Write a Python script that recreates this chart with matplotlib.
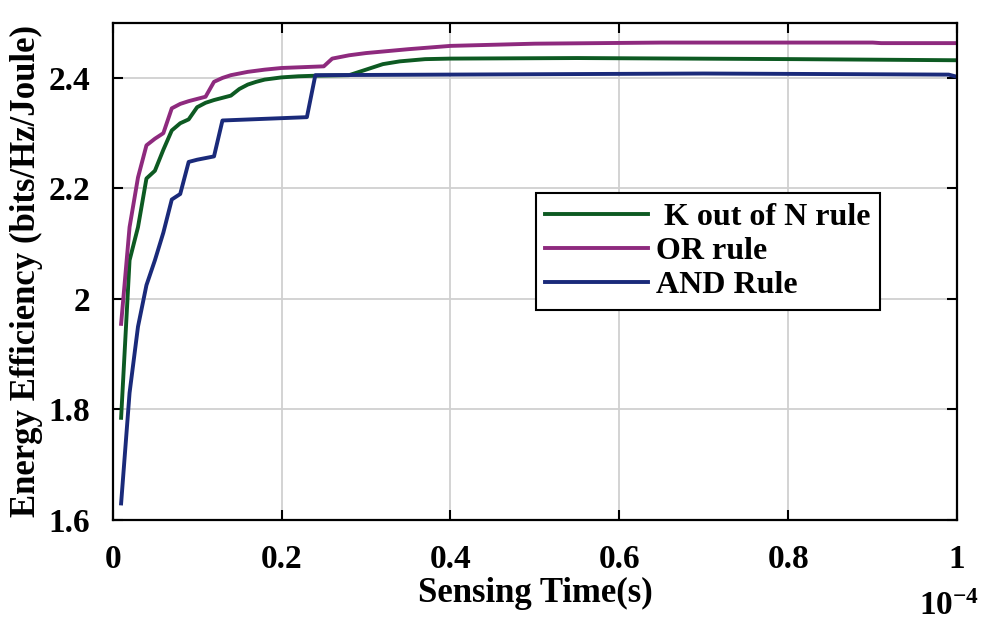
import matplotlib
matplotlib.use("Agg")
import matplotlib.pyplot as plt
from matplotlib.ticker import FuncFormatter

plt.rcParams['font.family'] = 'Liberation Serif'
plt.rcParams['font.weight'] = 'bold'
plt.rcParams['axes.labelweight'] = 'bold'

# sensing time in units of 1e-4 s, energy efficiency in bits/Hz/Joule
t_kn = [0.01, 0.02, 0.03, 0.04, 0.05, 0.06, 0.07, 0.08, 0.09, 0.10, 0.11, 0.12,
        0.13, 0.14, 0.15, 0.16, 0.17, 0.18, 0.20, 0.22, 0.24, 0.28, 0.30, 0.32,
        0.34, 0.37, 0.40, 0.55, 0.81, 1.00]
ee_kn = [1.785, 2.07, 2.13, 2.218, 2.232, 2.27, 2.305, 2.318, 2.325, 2.347, 2.355, 2.36,
         2.364, 2.368, 2.38, 2.388, 2.393, 2.397, 2.401, 2.403, 2.404, 2.405, 2.415, 2.425,
         2.430, 2.434, 2.435, 2.436, 2.434, 2.432]

t_or = [0.01, 0.02, 0.03, 0.04, 0.05, 0.06, 0.07, 0.08, 0.09, 0.10, 0.11, 0.12,
        0.13, 0.14, 0.16, 0.18, 0.20, 0.25, 0.26, 0.28, 0.30, 0.35, 0.40, 0.50,
        0.65, 0.90, 0.91, 1.00]
ee_or = [1.955, 2.13, 2.22, 2.278, 2.29, 2.30, 2.345, 2.353, 2.358, 2.362, 2.366, 2.393,
         2.400, 2.405, 2.411, 2.415, 2.418, 2.421, 2.435, 2.441, 2.445, 2.452, 2.458, 2.462,
         2.464, 2.464, 2.463, 2.463]

t_and = [0.01, 0.02, 0.03, 0.04, 0.05, 0.06, 0.07, 0.08, 0.09, 0.10, 0.12, 0.13,
         0.23, 0.24, 0.70, 0.85, 0.99, 1.00]
ee_and = [1.63, 1.83, 1.95, 2.025, 2.07, 2.12, 2.18, 2.19, 2.248, 2.252, 2.258, 2.323,
          2.329, 2.405, 2.408, 2.407, 2.406, 2.402]

fig = plt.figure(figsize=(9.84, 6.23), dpi=100)
ax = fig.add_axes([0.1145, 0.1653, 0.8582, 0.7983])

ax.plot([t * 1e-4 for t in t_kn], ee_kn, color='#0d5a22', lw=2.8, label=' K out of N rule')
ax.plot([t * 1e-4 for t in t_or], ee_or, color='#8e2a7e', lw=2.8, label='OR rule')
ax.plot([t * 1e-4 for t in t_and], ee_and, color='#1a2a7a', lw=2.8, label='AND Rule')

ax.set_xlim(0, 1e-4)
ax.set_ylim(1.6, 2.5)
ax.set_xticks([0, 0.2e-4, 0.4e-4, 0.6e-4, 0.8e-4, 1e-4])
ax.set_yticks([1.6, 1.8, 2.0, 2.2, 2.4])
ax.xaxis.set_major_formatter(FuncFormatter(lambda v, p: '%g' % round(v / 1e-4, 4)))
ax.yaxis.set_major_formatter(FuncFormatter(lambda v, p: '%g' % round(v, 4)))

ax.grid(True, color='#d0d0d0', lw=1.3)
ax.tick_params(direction='in', length=7, width=1.5, top=True, right=True, labelsize=24)
ax.tick_params(axis='x', pad=17)
ax.tick_params(axis='y', pad=16)
for s in ax.spines.values():
    s.set_linewidth(1.6)

ax.set_xlabel('Sensing Time(s)', fontsize=25, labelpad=2)
ax.set_ylabel('Energy Efficiency (bits/Hz/Joule)', fontsize=25, labelpad=4)
ax.text(0.955, -0.19, r'$\mathregular{10^{-4}}$', transform=ax.transAxes,
        fontsize=24, ha='left', va='baseline')

leg = ax.legend(loc='upper left', bbox_to_anchor=(0.501, 0.658), borderaxespad=0,
                fontsize=23, fancybox=False, edgecolor='black', framealpha=1,
                handlelength=3.2, handletextpad=0.25, labelspacing=0.15,
                borderpad=0.3)
leg.get_frame().set_linewidth(1.5)

plt.savefig('out.png', dpi=100)
